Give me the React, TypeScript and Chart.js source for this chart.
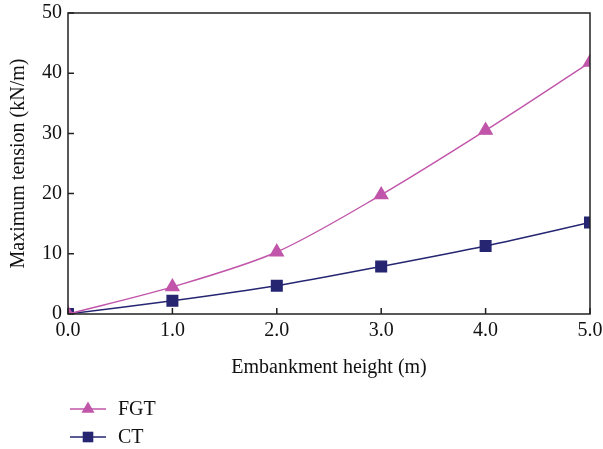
import React, { useEffect, useRef } from "react";
import { Chart, registerables } from "chart.js";

Chart.register(...registerables);

const heights = [0, 1, 2, 3, 4, 5];
const fgtValues = [0, 4.5, 10.3, 19.8, 30.5, 41.8];
const ctValues = [0, 2.2, 4.7, 7.9, 11.3, 15.2];
const seriesLabels = ["FGT", "CT"];
const xTitle = "Embankment height (m)";
const yTitle = "Maximum tension (kN/m)";

const FONT = "'Liberation Serif', 'DejaVu Serif', serif";
const FGT_COLOR = "#c055aa";
const CT_COLOR = "#252572";

const frameAndLegend = {
  id: "frameAndLegend",
  afterDatasetsDraw(chart: any) {
    const { ctx, chartArea: a, scales } = chart;
    ctx.save();
    ctx.strokeStyle = "#222";
    ctx.lineWidth = 1.5;
    ctx.strokeRect(a.left, a.top, a.right - a.left, a.bottom - a.top);
    ctx.beginPath();
    scales.x.ticks.forEach((t: any) => {
      const px = scales.x.getPixelForValue(t.value);
      ctx.moveTo(px, a.bottom);
      ctx.lineTo(px, a.bottom - 6);
    });
    scales.y.ticks.forEach((t: any) => {
      const py = scales.y.getPixelForValue(t.value);
      ctx.moveTo(a.left, py);
      ctx.lineTo(a.left + 6, py);
    });
    ctx.stroke();

    // legend
    chart.data.datasets.forEach((ds: any, i: number) => {
      const y = 409 + i * 28;
      ctx.strokeStyle = ds.borderColor;
      ctx.lineWidth = 1.5;
      ctx.beginPath();
      ctx.moveTo(70, y);
      ctx.lineTo(106, y);
      ctx.stroke();
      ctx.fillStyle = ds.pointBackgroundColor;
      drawMarker(ctx, ds.pointStyle, 88, y, ds.pointRadius);
      ctx.fillStyle = "#111";
      ctx.font = `20px ${FONT}`;
      ctx.textBaseline = "middle";
      ctx.textAlign = "left";
      ctx.fillText(ds.label, 118, y + 1);
    });
    ctx.restore();
  },
};

function drawMarker(ctx: CanvasRenderingContext2D, style: string, x: number, y: number, r: number) {
  ctx.beginPath();
  if (style === "triangle") {
    ctx.moveTo(x, y - r);
    ctx.lineTo(x + r * 0.866, y + r * 0.5);
    ctx.lineTo(x - r * 0.866, y + r * 0.5);
    ctx.closePath();
  } else {
    const s = r * Math.SQRT1_2;
    ctx.rect(x - s, y - s, 2 * s, 2 * s);
  }
  ctx.fill();
}

export default function App() {
  const ref = useRef<HTMLCanvasElement>(null);
  useEffect(() => {
    if (!ref.current) return;
    const chart = new Chart(ref.current, {
      type: "line",
      data: {
        datasets: [
          {
            label: seriesLabels[0],
            data: heights.map((h, i) => ({ x: h, y: fgtValues[i] })),
            borderColor: FGT_COLOR,
            backgroundColor: FGT_COLOR,
            pointBackgroundColor: FGT_COLOR,
            pointBorderColor: FGT_COLOR,
            pointStyle: "triangle",
            pointRadius: 7.5,
            borderWidth: 1.4,
            tension: 0.3,
          },
          {
            label: seriesLabels[1],
            data: heights.map((h, i) => ({ x: h, y: ctValues[i] })),
            borderColor: CT_COLOR,
            backgroundColor: CT_COLOR,
            pointBackgroundColor: CT_COLOR,
            pointBorderColor: CT_COLOR,
            pointStyle: "rect",
            pointRadius: 7.5,
            borderWidth: 1.4,
            tension: 0.3,
          },
        ] as any,
      },
      options: {
        animation: false,
        responsive: false,
        maintainAspectRatio: false,
        layout: { padding: { top: 13, right: 13, bottom: 65, left: 0 } },
        plugins: { legend: { display: false }, tooltip: { enabled: false } },
        scales: {
          x: {
            type: "linear",
            min: 0,
            max: 5,
            afterFit: (s: any) => {
              s.height = 70;
              s.paddingLeft = 0;
              s.paddingRight = 0;
            },
            ticks: {
              stepSize: 1,
              color: "#111",
              padding: 5,
              maxRotation: 0,
              font: { family: FONT, size: 20 },
              callback: (v: any) => Number(v).toFixed(1),
            },
            grid: { display: false, drawTicks: false },
            border: { display: false },
            title: {
              display: true,
              text: xTitle,
              color: "#111",
              font: { family: FONT, size: 20 },
              padding: { top: 2 },
            },
          },
          y: {
            min: 0,
            max: 50,
            afterFit: (s: any) => {
              s.width = 68;
              s.paddingTop = 0;
              s.paddingBottom = 0;
            },
            ticks: {
              stepSize: 10,
              color: "#111",
              padding: 6,
              font: { family: FONT, size: 20 },
            },
            grid: { display: false, drawTicks: false },
            border: { display: false },
            title: {
              display: true,
              text: yTitle,
              color: "#111",
              font: { family: FONT, size: 20 },
              padding: { top: 7, bottom: 4 },
            },
          },
        },
      },
      plugins: [frameAndLegend],
    });
    return () => chart.destroy();
  }, []);
  return (
    <div style={{ position: "fixed", left: 0, top: 0, width: 603, height: 449, background: "#fff" }}>
      <canvas ref={ref} width={603} height={449} style={{ width: 603, height: 449 }} />
    </div>
  );
}
